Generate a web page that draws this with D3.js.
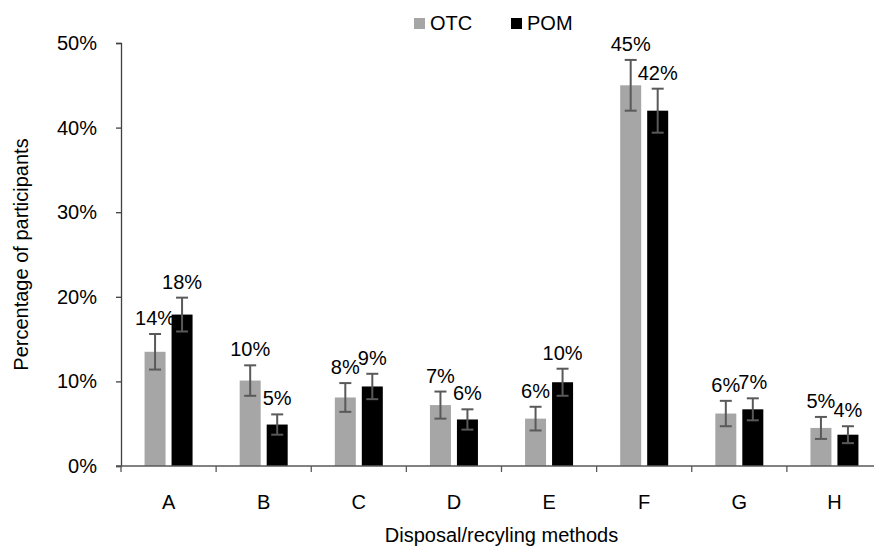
<!DOCTYPE html>
<html>
<head>
<meta charset="utf-8">
<script src="https://cdn.jsdelivr.net/npm/d3@7"></script>
<style>
  body { margin: 0; background: #fff; }
  text { font-family: "Liberation Sans", Arial, sans-serif; fill: #000; }
</style>
</head>
<body>
<div id="chart"></div>
<script>
const categories = ['A', 'B', 'C', 'D', 'E', 'F', 'G', 'H'];
const series = ['OTC', 'POM'];
const otcValues = [13.5, 10.1, 8.1, 7.2, 5.6, 45.0, 6.2, 4.5];
const pomValues = [17.9, 4.9, 9.4, 5.5, 9.9, 42.0, 6.7, 3.7];
const otcErrors = [2.1, 1.8, 1.7, 1.6, 1.4, 3.0, 1.5, 1.3];
const pomErrors = [2.0, 1.2, 1.5, 1.2, 1.6, 2.6, 1.3, 1.0];
const otcLabels = ['14%', '10%', '8%', '7%', '6%', '45%', '6%', '5%'];
const pomLabels = ['18%', '5%', '9%', '6%', '10%', '42%', '7%', '4%'];
const yTicks = [0, 10, 20, 30, 40, 50];

const width = 874, height = 546;
const margin = {top: 43, left: 121, bottom: 80};
const plotRight = 882;
const colors = {OTC: '#a6a6a6', POM: '#000000'};

const svg = d3.select('#chart').append('svg')
  .attr('width', width)
  .attr('height', height);

const x0 = d3.scaleBand().domain(categories).range([margin.left, plotRight]);
const groupW = 48;
const x1 = d3.scaleBand().domain(series).range([0, groupW]).paddingInner(0.2222);
const y = d3.scaleLinear().domain([0, 50]).range([height - margin.bottom, margin.top]);

// rows for bars
const rows = [];
categories.forEach((c, i) => {
  rows.push({cat: c, s: 'OTC', v: otcValues[i], e: otcErrors[i], label: otcLabels[i]});
  rows.push({cat: c, s: 'POM', v: pomValues[i], e: pomErrors[i], label: pomLabels[i]});
});
const barX = d => x0(d.cat) + (x0.bandwidth() - groupW) / 2 + x1(d.s);
const barC = d => barX(d) + x1.bandwidth() / 2;

// bars
svg.append('g').selectAll('rect')
  .data(rows)
  .join('rect')
    .attr('x', barX)
    .attr('y', d => y(d.v))
    .attr('width', x1.bandwidth())
    .attr('height', d => y(0) - y(d.v))
    .attr('fill', d => colors[d.s]);

// error bars
const err = svg.append('g')
  .attr('stroke', '#595959')
  .attr('stroke-width', 2)
  .selectAll('g')
  .data(rows)
  .join('g');
err.append('line')
  .attr('x1', barC).attr('x2', barC)
  .attr('y1', d => y(d.v + d.e)).attr('y2', d => y(d.v - d.e));
err.append('line')
  .attr('x1', d => barC(d) - 6).attr('x2', d => barC(d) + 6)
  .attr('y1', d => y(d.v + d.e)).attr('y2', d => y(d.v + d.e));
err.append('line')
  .attr('x1', d => barC(d) - 6).attr('x2', d => barC(d) + 6)
  .attr('y1', d => y(d.v - d.e)).attr('y2', d => y(d.v - d.e));

// value labels
svg.append('g').selectAll('text')
  .data(rows)
  .join('text')
    .attr('x', barC)
    .attr('y', d => y(d.v + d.e) - 9)
    .attr('text-anchor', 'middle')
    .attr('font-size', 20)
    .text(d => d.label);

// y axis
const yAxis = svg.append('g')
  .attr('transform', `translate(${margin.left},0)`)
  .call(d3.axisLeft(y).tickValues(yTicks).tickSize(5).tickPadding(19).tickFormat(d => d + '%'));
yAxis.select('.domain').attr('stroke', '#404040').attr('stroke-width', 1.3);
yAxis.selectAll('.tick line').attr('stroke', '#404040').attr('stroke-width', 1.3);
yAxis.selectAll('.tick text').attr('font-size', 20).attr('fill', '#000')
  .attr('font-family', '"Liberation Sans", Arial, sans-serif');

// x axis
const xAxis = svg.append('g')
  .attr('transform', `translate(0,${y(0)})`)
  .call(d3.axisBottom(x0).tickSize(0).tickPadding(29));
xAxis.select('.domain').attr('stroke', '#595959').attr('stroke-width', 1.6)
  .attr('d', `M${margin.left - 5},0H${plotRight}`);
xAxis.selectAll('.tick text').attr('font-size', 20).attr('fill', '#000')
  .attr('font-family', '"Liberation Sans", Arial, sans-serif');
xAxis.append('g').selectAll('line')
  .data(categories.concat(['end']))
  .join('line')
    .attr('x1', (d, i) => margin.left + i * x0.step())
    .attr('x2', (d, i) => margin.left + i * x0.step())
    .attr('y1', 0).attr('y2', 6)
    .attr('stroke', '#595959').attr('stroke-width', 1.3);

// axis titles
svg.append('text')
  .attr('transform', `translate(28,${(margin.top + y(0)) / 2}) rotate(-90)`)
  .attr('text-anchor', 'middle')
  .attr('font-size', 20)
  .text('Percentage of participants');
svg.append('text')
  .attr('x', (margin.left + plotRight) / 2)
  .attr('y', 542)
  .attr('text-anchor', 'middle')
  .attr('font-size', 20)
  .text('Disposal/recyling methods');

// legend
const legend = svg.append('g').attr('transform', 'translate(414,18)');
series.forEach((s, i) => {
  const item = legend.append('g').attr('transform', `translate(${i * 97},0)`);
  item.append('rect').attr('width', 11).attr('height', 11).attr('fill', colors[s]);
  item.append('text').attr('x', 16).attr('y', 12).attr('font-size', 20).text(s);
});
</script>
</body>
</html>
